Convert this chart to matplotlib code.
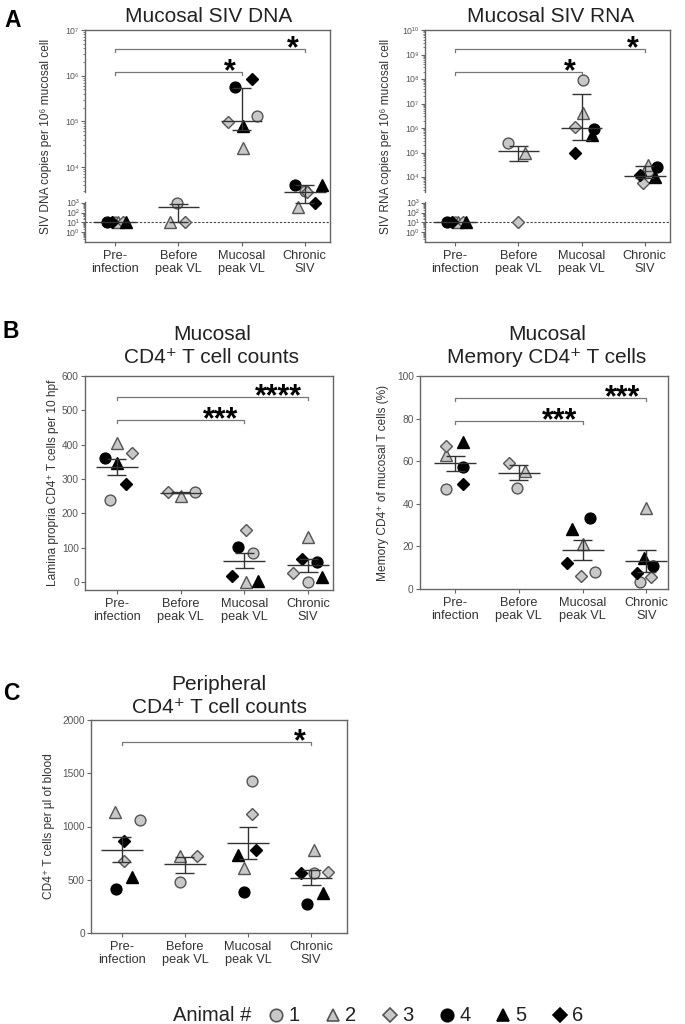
import numpy as np
import matplotlib
matplotlib.use("Agg")
import matplotlib.pyplot as plt
from matplotlib.lines import Line2D
from matplotlib.scale import FuncScale
import matplotlib.transforms as mtrans

plt.rcParams['font.family'] = ['Liberation Sans', 'DejaVu Sans']

# ---------------- DATA ----------------
CATEGORIES = ["Pre-\ninfection", "Before\npeak VL", "Mucosal\npeak VL", "Chronic\nSIV"]
ANIMALS = ["1", "2", "3", "4", "5", "6"]
nan = np.nan

# Panel A: mucosal SIV DNA (copies per 10^6 mucosal cells), per animal 1..6
DNA_PRE = [10, 10, 10, 10, 10, 10]
DNA_BEFORE = [1100, 10, 10, nan, nan, nan]
DNA_PEAK = [1.3e5, 2.6e4, 9.5e4, 5.7e5, 8.0e4, 8.5e5]
DNA_CHRONIC = [3000, 400, 2900, 4000, 4000, 1000]
DNA_MED = [10, 380, 1.0e5, 2900]
DNA_LO = [10, 10, 6.6e4, 1000]
DNA_HI = [10, 800, 5.5e5, 4000]

# Panel A: mucosal SIV RNA
RNA_PRE = [10, 10, 10, 10, 10, 10]
RNA_BEFORE = [2.5e5, 1.0e5, 10, nan, nan, nan]
RNA_PEAK = [9.0e7, 4.0e6, 1.1e6, 9.0e5, 5.0e5, 1.0e5]
RNA_CHRONIC = [1.8e4, 3.0e4, 5.7e3, 2.5e4, 1.0e4, 1.2e4]
RNA_MED = [10, 1.1e5, 1.0e6, 1.1e4]
RNA_LO = [10, 4.5e4, 3.2e5, 9.0e3]
RNA_HI = [10, 1.8e5, 2.5e7, 2.8e4]

# Panel B: lamina propria CD4+ T cells per 10 hpf
LP_PRE = [240, 406, 377, 362, 348, 287]
LP_BEFORE = [262, 250, 262, nan, nan, nan]
LP_PEAK = [85, 0, 152, 102, 2, 18]
LP_CHRONIC = [0, 132, 27, 58, 14, 66]
LP_MEAN = [336, 260, 62, 49]
LP_SEM_LO = [313, 258, 40, 30]
LP_SEM_HI = [359, 262, 84, 66]

# Panel B: memory CD4+ of mucosal T cells (%)
MEM_PRE = [47, 63, 67, 57.5, 69, 49.5]
MEM_BEFORE = [47.6, 55.5, 59, nan, nan, nan]
MEM_PEAK = [7.9, 21, 6.3, 33.5, 28.3, 12.3]
MEM_CHRONIC = [3.1, 38, 5.5, 10.7, 14.6, 7.5]
MEM_MEAN = [59, 54.4, 18.5, 13]
MEM_SEM_LO = [55.5, 51, 13.8, 7.9]
MEM_SEM_HI = [62.5, 58, 23, 18.5]

# Panel C: peripheral CD4+ T cells per ul of blood
PB_PRE = [1062, 1140, 672, 412, 525, 860]
PB_BEFORE = [475, 725, 725, nan, nan, nan]
PB_PEAK = [1428, 615, 1115, 381, 734, 775]
PB_CHRONIC = [563, 779, 573, 272, 376, 563]
PB_MEAN = [781, 647, 843, 516]
PB_SEM_LO = [662, 562, 694, 450]
PB_SEM_HI = [900, 718, 994, 590]

# significance brackets: (from category, to category, label)
SIG_A = [(0, 2, "*"), (0, 3, "*")]
SIG_B_LP = [(0, 2, "***"), (0, 3, "****")]
SIG_B_MEM = [(0, 2, "***"), (0, 3, "***")]
SIG_C = [(0, 3, "*")]

# ---------------- LAYOUT / STYLE ----------------
W, H = 685, 1024
fig = plt.figure(figsize=(W / 100, H / 100), dpi=100)

SPINE = '#666666'
TXT = '#333333'
GRAY_FC = '#c8c8c8'
GRAY_EC = '#555555'
STYLES = [
    dict(marker='o', ms=7.8, mfc=GRAY_FC, mec=GRAY_EC),
    dict(marker='^', ms=8.0, mfc=GRAY_FC, mec=GRAY_EC),
    dict(marker='D', ms=6.2, mfc=GRAY_FC, mec=GRAY_EC),
    dict(marker='o', ms=7.8, mfc='black', mec='black'),
    dict(marker='^', ms=8.0, mfc='black', mec='black'),
    dict(marker='D', ms=6.2, mfc='black', mec='black'),
]

# jitter offsets (category units) per group, per animal
OFF_DNA = [[0.0, 0.04, 0.12, -0.13, 0.17, -0.05],
           [-0.03, -0.14, 0.11, 0, 0, 0],
           [0.24, 0.03, -0.22, -0.11, 0.03, 0.16],
           [0.0, -0.11, 0.03, -0.16, 0.27, 0.17]]
OFF_RNA = [[0.0, 0.04, 0.12, -0.13, 0.17, -0.05],
           [-0.16, 0.10, 0.0, 0, 0, 0],
           [0.03, 0.03, -0.11, 0.19, 0.16, -0.11],
           [0.05, 0.05, -0.03, 0.19, 0.16, -0.08]]
OFF_LP = [[-0.11, 0.0, 0.24, -0.19, 0.0, 0.14],
          [0.22, 0.0, -0.2, 0, 0, 0],
          [0.14, 0.02, 0.03, -0.1, 0.22, -0.2],
          [0.0, 0.0, -0.24, 0.14, 0.22, -0.1]]
OFF_MEM = [[-0.14, -0.14, -0.14, 0.12, 0.12, 0.12],
           [-0.03, 0.10, -0.16, 0, 0, 0],
           [0.19, 0.0, -0.02, 0.11, -0.16, -0.24],
           [-0.1, 0.0, 0.08, 0.11, -0.03, -0.14]]
OFF_PB = [[0.29, -0.11, 0.03, -0.1, 0.16, 0.03],
          [-0.08, -0.08, 0.19, 0, 0, 0],
          [0.06, -0.06, 0.06, -0.06, -0.16, 0.13],
          [0.05, 0.05, 0.27, -0.06, 0.19, -0.16]]


def add_axes_px(x0, y0, x1, y1):
    return fig.add_axes([x0 / W, 1 - y1 / H, (x1 - x0) / W, (y1 - y0) / H])


def style_axes(ax, xlim):
    for s in ax.spines.values():
        s.set_color(SPINE)
        s.set_linewidth(1.0)
    ax.set_xlim(*xlim)
    ax.set_xticks(range(len(CATEGORIES)))
    ax.set_xticklabels(CATEGORIES, fontsize=9.2, color=TXT, linespacing=1.1)
    ax.tick_params(axis='x', length=3, width=0.8, color=SPINE, pad=3)
    ax.tick_params(axis='y', which='major', length=3, width=0.8, color=SPINE,
                   labelcolor='#555555', pad=1.5)
    ax.tick_params(axis='y', which='minor', length=1.6, width=0.6, color=SPINE)


def draw_points(ax, groups, offs):
    for gi, vals in enumerate(groups):
        for ai, v in enumerate(vals):
            if np.isnan(v):
                continue
            ax.plot([gi + offs[gi][ai]], [v], ls='none', mew=1.0, clip_on=False,
                    zorder=3, **STYLES[ai])


def draw_stats(ax, center, lo, hi):
    kw = dict(color='#333333', lw=1.0, zorder=4, clip_on=False, solid_capstyle='butt')
    for i, (c, l, h) in enumerate(zip(center, lo, hi)):
        ax.plot([i - 0.33, i + 0.33], [c, c], **kw)
        if h != l:
            ax.plot([i, i], [l, h], **kw)
            ax.plot([i - 0.15, i + 0.15], [l, l], **kw)
            ax.plot([i - 0.15, i + 0.15], [h, h], **kw)


def draw_sig(ax, sigs, yfracs, height_px):
    trans = ax.get_xaxis_transform()
    d = 3.0 / height_px
    for (a, b, lab), yf in zip(sigs, yfracs):
        ax.plot([a, a, b, b], [yf - d, yf, yf, yf - d], transform=trans,
                color='#777777', lw=0.9, clip_on=False, zorder=2)
        t = mtrans.offset_copy(trans, fig=fig, x=0, y=-6.0, units='points')
        ax.text(b - 0.09, yf, lab, transform=t, ha='right', va='baseline',
                fontsize=22, fontweight='bold', color='black')


# ---- segmented log scale for panel A ----
def seg_scale(up_v4, up_ppd, low_v0=10.0, low_ppd=9.7, low_top_v=40.0, up_bot_v=50.0):
    low_top_l = (low_top_v - low_v0) / low_ppd
    up_bot_l = 4 + (up_bot_v - up_v4) / up_ppd
    ls = np.array([-20.0, low_top_l, up_bot_l, 30.0])
    vs = np.array([low_v0 + low_ppd * -20.0, low_top_v, up_bot_v, up_v4 + up_ppd * 26.0])

    def fwd(y):
        y = np.asarray(y, dtype=float)
        l = np.log10(np.clip(y, 1e-30, None))
        return np.interp(l, ls, vs)

    def inv(v):
        return 10 ** np.interp(np.asarray(v, dtype=float), vs, ls)

    return fwd, inv, low_top_l, up_bot_l


SUP = {0: '⁰', 1: '¹', 2: '²', 3: '³', 4: '⁴', 5: '⁵', 6: '⁶', 7: '⁷', 8: '⁸', 9: '⁹'}


def sup_label(n):
    if n == 10:
        return '10¹⁰'
    return '10' + SUP[n]


def panel_A(x0, x1, groups, med, lo, hi, offs, up_v4, up_ppd, top_exp, ylabel, title_x):
    ax = add_axes_px(x0, 30, x1, 242)
    fwd, inv, low_top_l, up_bot_l = seg_scale(up_v4, up_ppd)
    ax.set_yscale(FuncScale(ax, (fwd, inv)))
    ax.set_ylim(inv(0.0), inv(212.0))
    style_axes(ax, (-0.48, 3.4))
    ax.spines['left'].set_visible(False)
    ytr = ax.get_yaxis_transform()
    ax.plot([0, 0], [inv(0.0), 10 ** low_top_l], transform=ytr, color=SPINE, lw=1.0, clip_on=False)
    ax.plot([0, 0], [10 ** up_bot_l, inv(212.0)], transform=ytr, color=SPINE, lw=1.0, clip_on=False)
    majors = [0, 1, 2, 3] + list(range(4, top_exp + 1))
    ax.set_yticks([10.0 ** e for e in majors])
    ax.set_yticklabels([sup_label(e) for e in majors], fontsize=6.3)
    minors = []
    for e in range(-1, 3):
        minors += [k * 10.0 ** e for k in range(2, 10)]
    for e in range(3, top_exp):
        minors += [k * 10.0 ** e for k in range(2, 10) if np.log10(k * 10.0 ** e) > up_bot_l]
    ax.set_yticks(minors, minor=True)
    ax.axhline(10, color='#444444', lw=0.8, ls=(0, (2, 1.5)), zorder=1)
    draw_points(ax, groups, offs)
    draw_stats(ax, med, lo, hi)
    draw_sig(ax, SIG_A, [0.802, 0.910], 212)
    ax.set_ylabel(ylabel, fontsize=8.6, color=TXT)
    ax.yaxis.set_label_coords(-33 / (x1 - x0), 0.5)
    fig.text(title_x / W, 1 - 22 / H, "Mucosal SIV " + ylabel.split()[1], ha='center',
             va='baseline', fontsize=15, color='#222222')
    return ax


panel_A(85, 330, [DNA_PRE, DNA_BEFORE, DNA_PEAK, DNA_CHRONIC], DNA_MED, DNA_LO, DNA_HI,
        OFF_DNA, 75.0, 45.67, 7, "SIV DNA copies per 10⁶ mucosal cell", 209)
panel_A(425, 670, [RNA_PRE, RNA_BEFORE, RNA_PEAK, RNA_CHRONIC], RNA_MED, RNA_LO, RNA_HI,
        OFF_RNA, 65.0, 24.5, 10, "SIV RNA copies per 10⁶ mucosal cell", 551)


def panel_lin(box, xlim, ylim, yticks, groups, m, lo, hi, offs, sigs, yfr, ylabel,
              lab_dist, t1, t2, tx, tb1, tb2):
    x0, y0, x1, y1 = box
    ax = add_axes_px(x0, y0, x1, y1)
    style_axes(ax, xlim)
    ax.set_ylim(*ylim)
    ax.set_yticks(yticks)
    ax.set_yticklabels([str(v) for v in yticks], fontsize=7.3)
    draw_points(ax, groups, offs)
    draw_stats(ax, m, lo, hi)
    draw_sig(ax, sigs, yfr, y1 - y0)
    ax.set_ylabel(ylabel, fontsize=8.6, color=TXT)
    ax.yaxis.set_label_coords(-lab_dist / (x1 - x0), 0.5)
    fig.text(tx / W, 1 - tb1 / H, t1, ha='center', va='baseline', fontsize=15, color='#222222')
    fig.text(tx / W, 1 - tb2 / H, t2, ha='center', va='baseline', fontsize=15, color='#222222')
    return ax


panel_lin((85, 376, 333, 590), (-0.5, 3.39), (-23, 600), [0, 100, 200, 300, 400, 500, 600],
          [LP_PRE, LP_BEFORE, LP_PEAK, LP_CHRONIC], LP_MEAN, LP_SEM_LO, LP_SEM_HI, OFF_LP,
          SIG_B_LP, [0.794, 0.902], "Lamina propria CD4⁺ T cells per 10 hpf", 26,
          "Mucosal", "CD4⁺ T cell counts", 212, 340, 363)
panel_lin((420, 376, 668, 589), (-0.55, 3.34), (0, 100), [0, 20, 40, 60, 80, 100],
          [MEM_PRE, MEM_BEFORE, MEM_PEAK, MEM_CHRONIC], MEM_MEAN, MEM_SEM_LO, MEM_SEM_HI, OFF_MEM,
          SIG_B_MEM, [0.789, 0.897], "Memory CD4⁺ of mucosal T cells (%)", 31,
          "Mucosal", "Memory CD4⁺ T cells", 547, 340, 363)
panel_lin((91, 720, 347, 933), (-0.49, 3.57), (0, 2000), [0, 500, 1000, 1500, 2000],
          [PB_PRE, PB_BEFORE, PB_PEAK, PB_CHRONIC], PB_MEAN, PB_SEM_LO, PB_SEM_HI, OFF_PB,
          SIG_C, [0.897], "CD4⁺ T cells per µl of blood", 36,
          "Peripheral", "CD4⁺ T cell counts", 219, 690, 713)

# panel letters
for lab, x, y in [("A", 4, 27), ("B", 3, 338), ("C", 3, 700)]:
    fig.text(x / W, 1 - y / H, lab, ha='left', va='baseline', fontsize=16.5, fontweight='bold')

# legend
ly = 1014.5
fig.text(173 / W, 1 - 1021 / H, "Animal #", ha='left', va='baseline', fontsize=14.5, color='#222222')
for i, (mx, lab) in enumerate(zip([276, 333, 390, 447, 503, 560], ANIMALS)):
    st = dict(STYLES[i])
    st['ms'] = st['ms'] * 1.15
    fig.add_artist(Line2D([mx / W], [1 - ly / H], transform=fig.transFigure, ls='none',
                          mew=1.2, **st))
    fig.text((mx + 12) / W, 1 - 1021 / H, lab, ha='left', va='baseline', fontsize=14.5,
             color='#222222')

fig.savefig("out.png", dpi=100)
